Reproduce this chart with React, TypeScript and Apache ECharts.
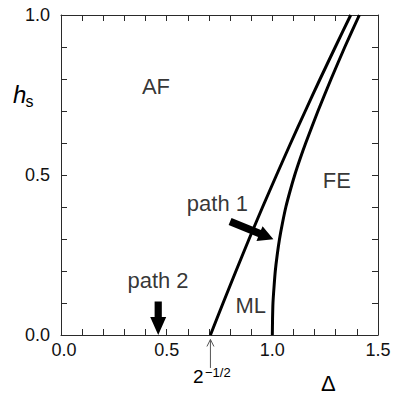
import React, { useEffect, useRef } from 'react';
import * as echarts from 'echarts';

// Phase boundary AF | ML (starts at Δ = 2^-1/2)
const boundaryAFx = [0.7071, 0.767, 0.828, 0.890, 0.954, 1.020, 1.087, 1.156, 1.226, 1.298, 1.371];
const boundaryAFy = [0.0, 0.1, 0.2, 0.3, 0.4, 0.5, 0.6, 0.7, 0.8, 0.9, 1.0];
// Phase boundary ML | FE (starts at Δ = 1)
const boundaryFEx = [1.0, 1.001, 1.003, 1.008, 1.014, 1.023, 1.034, 1.048, 1.064, 1.084, 1.106, 1.131, 1.158, 1.216, 1.278, 1.343, 1.412];
const boundaryFEy = [0.0, 0.05, 0.1, 0.15, 0.2, 0.25, 0.3, 0.35, 0.4, 0.45, 0.5, 0.55, 0.6, 0.7, 0.8, 0.9, 1.0];

// Arrows: [x start, y start, x tip, y tip]
const arrowPath1 = [0.80, 0.355, 1.005, 0.299];
const arrowPath2 = [0.46, 0.105, 0.46, 0.0];
const arrowRoot = [0.7071, -0.103, 0.7071, -0.014];

// Region labels
const regionLabels = ['AF', 'FE', 'path 1', 'path 2', 'ML'];
const regionLabelX = [0.4495, 1.305, 0.740, 0.459, 0.898];
const regionLabelY = [0.776, 0.482, 0.4125, 0.17, 0.0916];

const xRange = [0, 1.5];
const yRange = [0, 1.0];

const FONT = '"Liberation Sans", Arial, Helvetica, sans-serif';
const AX = '#2a2a2a';

export default function App() {
  const ref = useRef<HTMLDivElement>(null);
  useEffect(() => {
    if (!ref.current) return;
    const chart = echarts.init(ref.current, undefined, { renderer: 'svg' });

    const pairs = (xs: number[], ys: number[]) => xs.map((x, i) => [x, ys[i]]);

    const axisCommon = {
      type: 'value' as const,
      axisLine: { show: true, onZero: false, lineStyle: { color: AX, width: 1 } },
      axisTick: { show: true, inside: true, length: 6, lineStyle: { color: AX, width: 1 } },
      minorTick: { show: true, splitNumber: 5, length: 6, lineStyle: { color: AX, width: 1 } },
      splitLine: { show: false },
      minorSplitLine: { show: false },
    };

    const labelText = { fontSize: 18, color: '#111', fontFamily: FONT };

    const option: any = {
      animation: false,
      backgroundColor: '#fff',
      grid: { left: 61, top: 15, right: 17, bottom: 59 },
      xAxis: [
        {
          ...axisCommon, position: 'bottom', min: xRange[0], max: xRange[1], interval: 0.5,
          axisLabel: {
            show: true, ...labelText, margin: 6,
            formatter: (v: number) => (v === 0 ? '{first|0.0}' : v.toFixed(1)),
            rich: { first: { ...labelText, padding: [0, 0, 0, 6] } },
          },
        },
        {
          ...axisCommon, position: 'top', min: xRange[0], max: xRange[1], interval: 0.5,
          axisLabel: { show: false },
        },
      ],
      yAxis: [
        {
          ...axisCommon, position: 'left', min: yRange[0], max: yRange[1], interval: 0.5,
          axisLabel: { show: true, ...labelText, margin: 11,
            formatter: (v: number) => v.toFixed(1) },
        },
        {
          ...axisCommon, position: 'right', min: yRange[0], max: yRange[1], interval: 0.5,
          axisLabel: { show: false },
        },
      ],
      series: [
        {
          type: 'line', data: pairs(boundaryAFx, boundaryAFy), smooth: 0.2, showSymbol: false,
          lineStyle: { color: '#000', width: 3, join: 'round' }, silent: true,
        },
        {
          type: 'line', data: pairs(boundaryFEx, boundaryFEy), smooth: 0.2, showSymbol: false,
          lineStyle: { color: '#000', width: 3, join: 'round' }, silent: true,
        },
        {
          type: 'custom',
          clip: false,
          silent: true,
          encode: { x: [0, 2], y: [1, 3] },
          data: [arrowPath1, arrowPath2],
          renderItem: (params: any, api: any) => {
            const p1 = api.coord([api.value(0), api.value(1)]);
            const p2 = api.coord([api.value(2), api.value(3)]);
            const dx = p2[0] - p1[0], dy = p2[1] - p1[1];
            const len = Math.hypot(dx, dy) || 1;
            const ux = dx / len, uy = dy / len;
            const px = -uy, py = ux;
            const sw = params.dataIndex === 0 ? 3.8 : 3.6;
            const hw = 8;
            const hl = params.dataIndex === 0 ? 15 : 18;
            const bx = p2[0] - ux * hl, by = p2[1] - uy * hl;
            const points = [
              [p1[0] + px * sw, p1[1] + py * sw],
              [bx + px * sw, by + py * sw],
              [bx + px * hw, by + py * hw],
              [p2[0], p2[1]],
              [bx - px * hw, by - py * hw],
              [bx - px * sw, by - py * sw],
              [p1[0] - px * sw, p1[1] - py * sw],
            ];
            return { type: 'polygon', shape: { points }, style: { fill: '#000' } };
          },
        },
        {
          type: 'custom',
          clip: false,
          silent: true,
          encode: { x: [0, 2], y: [1, 3] },
          data: [arrowRoot],
          renderItem: (params: any, api: any) => {
            const p1 = api.coord([api.value(0), api.value(1)]);
            const p2 = api.coord([api.value(2), api.value(3)]);
            const st = { stroke: '#555', lineWidth: 1, fill: 'none' };
            return {
              type: 'group',
              children: [
                { type: 'line', shape: { x1: p1[0], y1: p1[1], x2: p2[0], y2: p2[1] }, style: st },
                {
                  type: 'polyline',
                  shape: { points: [[p2[0] - 3.5, p2[1] + 7], [p2[0], p2[1]], [p2[0] + 3.5, p2[1] + 7]] },
                  style: st,
                },
              ],
            };
          },
        },
        {
          type: 'scatter',
          silent: true,
          symbolSize: 1,
          itemStyle: { color: 'rgba(0,0,0,0)' },
          data: regionLabels.map((n, i) => ({ name: n, value: [regionLabelX[i], regionLabelY[i]] })),
          label: {
            show: true, position: 'inside', formatter: '{b}', color: '#000',
            fontSize: 22, fontFamily: FONT,
          },
        },
      ],
      graphic: [
        { type: 'text', x: 13, y: 94.7, silent: true,
          style: { text: 'h', fontSize: 24, fontStyle: 'italic', fontFamily: FONT, fill: '#000', verticalAlign: 'middle', align: 'left' } },
        { type: 'text', x: 25.5, y: 101, silent: true,
          style: { text: 's', fontSize: 16, fontFamily: FONT, fill: '#000', verticalAlign: 'middle', align: 'left' } },
        { type: 'text', x: 328.3, y: 383, silent: true,
          style: { text: 'Δ', fontSize: 22, fontFamily: FONT, fill: '#000', verticalAlign: 'middle', align: 'center' } },
        { type: 'text', x: 193, y: 376.7, silent: true,
          style: { text: '2', fontSize: 19, fontFamily: FONT, fill: '#000', verticalAlign: 'middle', align: 'left' } },
        { type: 'text', x: 205, y: 372, silent: true,
          style: { text: '\u22121/2', fontSize: 13, fontFamily: FONT, fill: '#000', verticalAlign: 'middle', align: 'left' } },
      ],
    };

    chart.setOption(option);
    return () => chart.dispose();
  }, []);

  return (
    <div
      ref={ref}
      style={{ position: 'fixed', left: 0, top: 0, width: 395, height: 394, background: '#fff' }}
    />
  );
}
